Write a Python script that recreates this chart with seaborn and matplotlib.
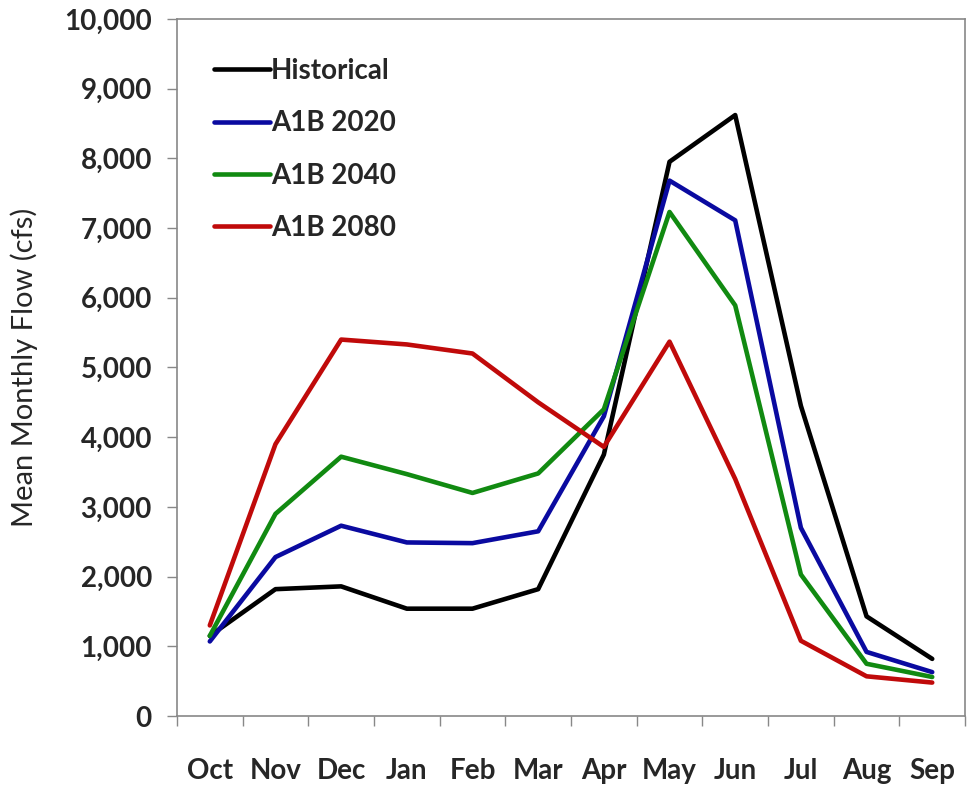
import pandas as pd
import numpy as np
import matplotlib.pyplot as plt
import seaborn as sns
from matplotlib.ticker import FuncFormatter, FixedLocator

months = ["Oct", "Nov", "Dec", "Jan", "Feb", "Mar", "Apr", "May", "Jun", "Jul", "Aug", "Sep"]
historical = [1150, 1820, 1860, 1540, 1540, 1820, 3750, 7950, 8620, 4450, 1430, 820]
a1b_2020 = [1070, 2280, 2730, 2490, 2480, 2650, 4300, 7680, 7110, 2700, 920, 630]
a1b_2040 = [1150, 2900, 3720, 3470, 3200, 3480, 4400, 7230, 5890, 2030, 750, 560]
a1b_2080 = [1300, 3900, 5400, 5330, 5200, 4500, 3860, 5370, 3400, 1080, 570, 480]

series = {"Historical": historical, "A1B 2020": a1b_2020,
          "A1B 2040": a1b_2040, "A1B 2080": a1b_2080}
colors = {"Historical": "#000000", "A1B 2020": "#0A0AA0",
          "A1B 2040": "#118A11", "A1B 2080": "#C00A0A"}

rows = []
for name, vals in series.items():
    for m, v in zip(months, vals):
        rows.append({"month": m, "flow": v, "scenario": name})
df = pd.DataFrame(rows)

sns.set_style("white")
plt.rcParams["font.family"] = ["Lato", "DejaVu Sans"]

fig = plt.figure(figsize=(9.67, 7.86), dpi=100)
ax = fig.add_axes([0.183, 0.089, 0.815, 0.887])

sns.lineplot(data=df, x="month", y="flow", hue="scenario", palette=colors,
             linewidth=3.3, sort=False, ax=ax)

ax.set_xlim(-0.5, 11.5)
ax.set_ylim(0, 10000)
ax.set_yticks(np.arange(0, 10001, 1000))
ax.yaxis.set_major_formatter(FuncFormatter(lambda v, p: f"{int(v):,}"))

ax.set_xticks(range(len(months)))
ax.set_xticklabels(months)
ax.xaxis.set_minor_locator(FixedLocator(np.arange(-0.5, 12, 1)))
ax.tick_params(axis="x", which="major", bottom=True, length=0, pad=30, labelsize=20)
ax.tick_params(axis="x", which="minor", bottom=True, length=7, width=1, color="#888888", direction="out")
ax.tick_params(axis="y", left=True, length=7, width=1, color="#888888", direction="out", pad=11, labelsize=20)
for lab in ax.get_xticklabels() + ax.get_yticklabels():
    lab.set_fontweight("bold")

ax.set_xlabel("")
ax.set_ylabel("Mean Monthly Flow (cfs)", fontsize=21, labelpad=19)

for s in ax.spines.values():
    s.set_color("#888888")
    s.set_linewidth(1.2)

leg = ax.legend(loc="upper left", frameon=False, handlelength=2.0, handletextpad=0.05,
                labelspacing=0.95, borderaxespad=0, prop={"size": 20, "weight": "bold"},
                bbox_to_anchor=(0.033, 0.96))
for line in leg.get_lines():
    line.set_linewidth(3.3)

plt.savefig("out.png", dpi=100)
